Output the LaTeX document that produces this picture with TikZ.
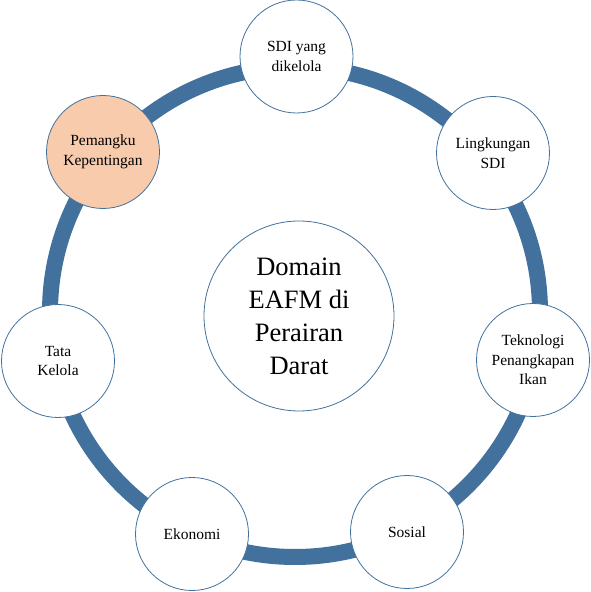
\documentclass[tikz,border=0pt]{standalone}
\usepackage{fontspec}
\setmainfont{Liberation Serif}
\usetikzlibrary{backgrounds}
\definecolor{ringblue}{HTML}{41719C}
\definecolor{peach}{HTML}{F8CBAD}

\begin{document}
\begin{tikzpicture}[x=1pt, y=1pt,
    aspect/.style={circle, draw=ringblue, line width=0.8pt, fill=#1, minimum size=113pt, inner sep=0pt, align=center, font=\fontsize{15.5}{19.5}\selectfont},
    aspect/.default=white,
    core/.style={circle, draw=ringblue, line width=0.8pt, fill=white, minimum size=190pt, inner sep=0pt, align=center, font=\fontsize{26.5}{33}\selectfont},
    ringline/.style={draw=ringblue, line width=16pt},
]
\useasboundingbox (0,0) rectangle (591,592);

% centre
\node[core] (dom) at (299,276) {Domain\\EAFM di\\Perairan\\Darat};

% aspects round the ring
\node[aspect] (sdi) at (296.5,535.5) {SDI yang\\dikelola};
\node[aspect] (ling) at (493,439) {Lingkungan\\SDI};
\node[aspect] (tek) at (533,232) {Teknologi\\Penangkapan\\Ikan};
\node[aspect] (sos) at (407,60) {Sosial};
\node[aspect] (eko) at (192,58) {Ekonomi};
\node[aspect] (tata) at (58,231) {Tata\\Kelola};
\node[aspect=peach] (pem) at (103,440) {Pemangku\\Kepentingan};

% ring behind the aspects
\coordinate (hub) at (295,280);
\begin{scope}[on background layer]
\draw[ringline] (hub) circle[radius=245];
\end{scope}

\end{tikzpicture}
\end{document}
